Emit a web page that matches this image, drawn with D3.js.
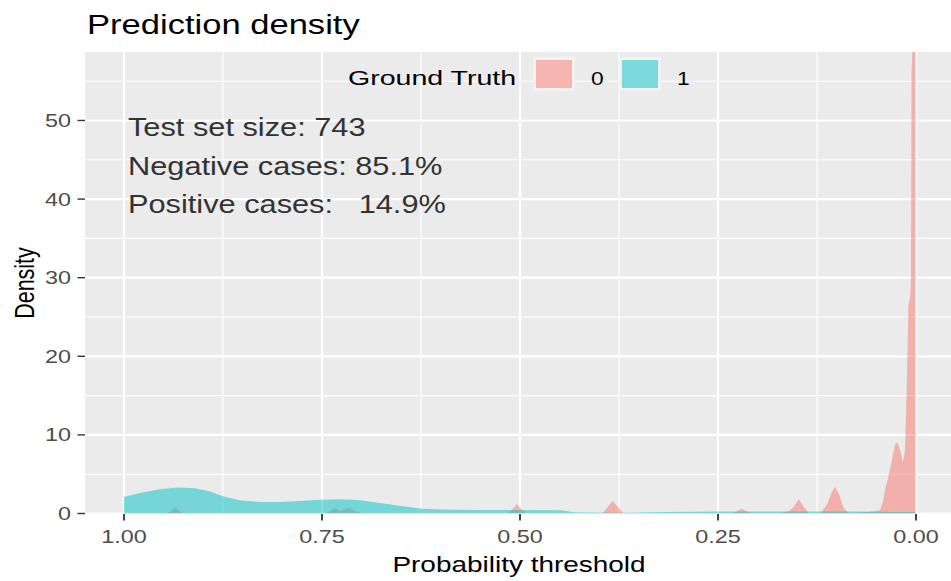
<!DOCTYPE html>
<html>
<head>
<meta charset="utf-8">
<script src="https://cdn.jsdelivr.net/npm/d3@7"></script>
<style>
  html, body { margin: 0; padding: 0; background: #ffffff; }
  svg { display: block; }
  text { font-family: "Liberation Sans", Arial, sans-serif; }
</style>
</head>
<body>
<svg id="chart" width="951" height="581"></svg>
<script>
// ---------------- data ----------------
const chartTitle = "Prediction density";
const xAxisTitle = "Probability threshold";
const yAxisTitle = "Density";
const legendTitle = "Ground Truth";
const groups = ["0", "1"];
const groupColors = ["#F8766D", "#00BFC4"];
const xTickValues = [1.00, 0.75, 0.50, 0.25, 0.00];
const xTickLabels = ["1.00", "0.75", "0.50", "0.25", "0.00"];
const yTickValues = [0, 10, 20, 30, 40, 50];
const yTickLabels = ["0", "10", "20", "30", "40", "50"];
const annotationLines = ["Test set size: 743", "Negative cases: 85.1%", "Positive cases:   14.9%"];

// density of class 0 (negative cases): probability, density
const negProb = [1.000, 0.945, 0.939, 0.935, 0.931, 0.925, 0.745, 0.738, 0.733, 0.727, 0.720, 0.715, 0.709, 0.700,
  0.515, 0.509, 0.504, 0.499, 0.492, 0.395, 0.389, 0.383, 0.377, 0.370,
  0.232, 0.226, 0.220, 0.214, 0.207, 0.170, 0.160, 0.154, 0.148, 0.142, 0.136, 0.120, 0.112, 0.106, 0.102, 0.097, 0.091, 0.085,
  0.060, 0.0455, 0.0417, 0.0391, 0.0328, 0.0265, 0.0240, 0.0202, 0.0164, 0.0139, 0.0114, 0.0095, 0.0074, 0.0064, 0.0056, 0.0046, 0.0010, 0.0004];
const negDens = [0.05, 0.05, 0.4, 0.8, 0.4, 0.05, 0.05, 0.4, 0.7, 0.3, 0.6, 0.7, 0.3, 0.05,
  0.05, 0.6, 1.2, 0.6, 0.05, 0.05, 0.9, 1.6, 0.9, 0.05,
  0.05, 0.3, 0.6, 0.3, 0.05, 0.05, 0.3, 0.9, 1.85, 0.9, 0.05, 0.05, 1.2, 2.8, 3.4, 2.4, 0.6, 0.05,
  0.2, 0.4, 1.5, 3.0, 5.6, 8.7, 9.1, 8.1, 6.5, 8.0, 17.0, 26.5, 27.5, 29.0, 56.0, 58.75, 58.75, 58.75];

// density of class 1 (positive cases): probability, density
const posProb = [1.000, 0.980, 0.955, 0.933, 0.910, 0.891, 0.875, 0.854, 0.828, 0.803, 0.778, 0.753, 0.727, 0.702,
  0.677, 0.652, 0.626, 0.601, 0.551, 0.500, 0.449, 0.431, 0.374, 0.317, 0.247, 0.172, 0.083, 0.020, 0.001];
const posDens = [2.1, 2.6, 3.1, 3.3, 3.2, 2.8, 2.2, 1.7, 1.45, 1.45, 1.6, 1.75, 1.8, 1.7,
  1.35, 1.0, 0.65, 0.5, 0.45, 0.45, 0.4, 0.15, 0.1, 0.2, 0.25, 0.25, 0.25, 0.2, 0.2];

// ---------------- layout ----------------
const SX = 1.3; // horizontal stretch of the original picture
const svg = d3.select("#chart");
const panel = { left: 85, top: 52, right: 956, bottom: 513.5 };

const x = d3.scaleLinear().domain([1.05, -0.05]).range([84.4, 955.6]);
const y = d3.scaleLinear().domain([0, 58.75]).range([513.5, 51.7]);

function stretchedText(sel, px, py, sx, rot) {
  return sel.attr("x", 0).attr("y", 0)
    .attr("transform", `translate(${px},${py}) scale(${sx},1)` + (rot ? ` rotate(${rot})` : ""));
}

// panel background
svg.append("rect")
  .attr("x", panel.left).attr("y", panel.top)
  .attr("width", panel.right - panel.left).attr("height", panel.bottom - panel.top)
  .attr("fill", "#EBEBEB");

svg.append("clipPath").attr("id", "clip").append("rect")
  .attr("x", panel.left).attr("y", panel.top)
  .attr("width", panel.right - panel.left).attr("height", panel.bottom - panel.top);

const grid = svg.append("g").attr("clip-path", "url(#clip)");
const xMinor = [0.875, 0.625, 0.375, 0.125];
const yMinor = [5, 15, 25, 35, 45, 55];
grid.selectAll(".xminor").data(xMinor).join("line")
  .attr("x1", d => x(d)).attr("x2", d => x(d)).attr("y1", panel.top).attr("y2", panel.bottom)
  .attr("stroke", "#ffffff").attr("stroke-width", 1.1);
grid.selectAll(".yminor").data(yMinor).join("line")
  .attr("y1", d => y(d)).attr("y2", d => y(d)).attr("x1", panel.left).attr("x2", panel.right)
  .attr("stroke", "#ffffff").attr("stroke-width", 1.1);
grid.selectAll(".xmajor").data(xTickValues).join("line")
  .attr("x1", d => x(d)).attr("x2", d => x(d)).attr("y1", panel.top).attr("y2", panel.bottom)
  .attr("stroke", "#ffffff").attr("stroke-width", 2.2);
grid.selectAll(".ymajor").data(yTickValues).join("line")
  .attr("y1", d => y(d)).attr("y2", d => y(d)).attr("x1", panel.left).attr("x2", panel.right)
  .attr("stroke", "#ffffff").attr("stroke-width", 2.2);

// density areas
const area = d3.area().x(d => x(d[0])).y0(y(0)).y1(d => y(d[1])).curve(d3.curveLinear);
const negData = negProb.map((p, i) => [p, negDens[i]]);
const posData = posProb.map((p, i) => [p, posDens[i]]);
const areas = svg.append("g").attr("clip-path", "url(#clip)");
[negData, posData].forEach((dat, i) => {
  areas.append("path").datum(dat).attr("d", area)
    .attr("fill", groupColors[i]).attr("fill-opacity", 0.5).attr("stroke", "none");
});

// y axis
const yAxis = svg.append("g");
yAxis.selectAll("line").data(yTickValues).join("line")
  .attr("x1", 77.5).attr("x2", 85).attr("y1", d => y(d)).attr("y2", d => y(d))
  .attr("stroke", "#333333").attr("stroke-width", 1.4);
yAxis.selectAll("text").data(yTickValues).join("text")
  .each(function(d, i) {
    stretchedText(d3.select(this), 71, y(d) + 6.5, SX, 0);
  })
  .attr("text-anchor", "end").attr("font-size", 18).attr("fill", "#4D4D4D")
  .text((d, i) => yTickLabels[i]);

// x axis
const xAxis = svg.append("g");
xAxis.selectAll("line").data(xTickValues).join("line")
  .attr("x1", d => x(d)).attr("x2", d => x(d)).attr("y1", 514).attr("y2", 520.5)
  .attr("stroke", "#333333").attr("stroke-width", 1.8);
xAxis.selectAll("text").data(xTickValues).join("text")
  .each(function(d) { stretchedText(d3.select(this), x(d), 543, SX, 0); })
  .attr("text-anchor", "middle").attr("font-size", 18).attr("fill", "#4D4D4D")
  .text((d, i) => xTickLabels[i]);

// axis titles
stretchedText(svg.append("text"), 519, 572, SX, 0)
  .attr("text-anchor", "middle").attr("font-size", 21.5).attr("fill", "#000000").text(xAxisTitle);
stretchedText(svg.append("text"), 34, 283, SX, -90)
  .attr("text-anchor", "middle").attr("font-size", 21.5).attr("fill", "#000000").text(yAxisTitle);

// title
stretchedText(svg.append("text"), 87, 34, 1.28, 0)
  .attr("font-size", 27).attr("fill", "#000000").text(chartTitle);

// legend
const legend = svg.append("g");
stretchedText(legend.append("text"), 348, 85, 1.36, 0)
  .attr("font-size", 21).attr("fill", "#000000").text(legendTitle);
const keyX = [533, 619];
groups.forEach((g, i) => {
  legend.append("rect").attr("x", keyX[i]).attr("y", 57).attr("width", 42).attr("height", 34)
    .attr("fill", "#F2F2F2");
  legend.append("rect").attr("x", keyX[i] + 3).attr("y", 60).attr("width", 36).attr("height", 28)
    .attr("fill", groupColors[i]).attr("fill-opacity", 0.5);
  stretchedText(legend.append("text"), keyX[i] + 58, 84.5, SX, 0)
    .attr("font-size", 17.5).attr("fill", "#000000").text(g);
});

// annotation
annotationLines.forEach((t, i) => {
  stretchedText(svg.append("text"), 128, 136 + i * 38.5, 1.23, 0)
    .attr("font-size", 25).attr("fill", "#333333").style("white-space", "pre").text(t);
});
</script>
</body>
</html>
